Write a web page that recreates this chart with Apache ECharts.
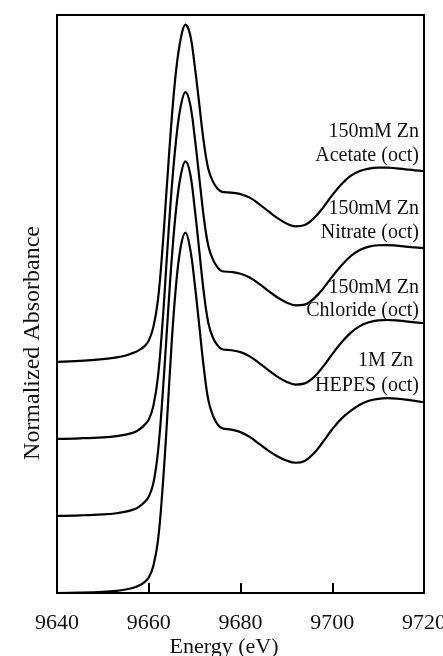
<!DOCTYPE html>
<html>
<head>
<meta charset="utf-8">
<script src="https://cdn.jsdelivr.net/npm/echarts@6/dist/echarts.min.js"></script>
<style>
  html, body { margin: 0; padding: 0; background: #fff; }
  #main { width: 443px; height: 656px; }
</style>
</head>
<body>
<div id="main"></div>
<script>
var energies = [9640, 9645, 9650, 9653, 9655, 9657, 9658, 9659, 9660, 9661, 9662, 9663, 9664, 9665, 9666, 9667, 9668,
    9669, 9670, 9671, 9672, 9673, 9674, 9675, 9676, 9678, 9680, 9682, 9684, 9686, 9688, 9690, 9692, 9694, 9696,
    9698, 9700, 9702, 9704, 9706, 9708, 9710, 9712, 9714, 9716, 9718, 9720];

// normalized absorbance of each sample (before the vertical offset)
var hepes = [0, 0.002, 0.006, 0.011, 0.018, 0.03, 0.04, 0.055, 0.08, 0.14, 0.27, 0.54, 0.90, 1.30, 1.61, 1.80, 1.87,
    1.79, 1.61, 1.39, 1.17, 1.00, 0.92, 0.875, 0.855, 0.848, 0.835, 0.81, 0.775, 0.74, 0.71, 0.688, 0.676, 0.685, 0.725,
    0.785, 0.85, 0.905, 0.945, 0.977, 0.998, 1.008, 1.011, 1.009, 1.004, 0.997, 0.99];
var chloride = [0, 0.003, 0.008, 0.014, 0.022, 0.036, 0.05, 0.07, 0.1, 0.17, 0.33, 0.62, 0.98, 1.33, 1.60, 1.77, 1.84,
    1.78, 1.60, 1.38, 1.16, 1.00, 0.925, 0.885, 0.865, 0.86, 0.85, 0.828, 0.795, 0.758, 0.723, 0.697, 0.682, 0.688, 0.72,
    0.775, 0.84, 0.90, 0.95, 0.985, 1.005, 1.015, 1.017, 1.015, 1.01, 1.005, 1.0];
var nitrate = [0, 0.003, 0.008, 0.014, 0.022, 0.036, 0.05, 0.07, 0.1, 0.17, 0.32, 0.60, 0.96, 1.30, 1.56, 1.73, 1.80,
    1.74, 1.57, 1.36, 1.15, 1.00, 0.93, 0.89, 0.87, 0.866, 0.857, 0.838, 0.806, 0.77, 0.735, 0.708, 0.693, 0.697, 0.728,
    0.78, 0.842, 0.90, 0.948, 0.98, 0.998, 1.005, 1.006, 1.003, 0.998, 0.994, 0.99];
var acetate = [0, 0.005, 0.014, 0.023, 0.033, 0.05, 0.062, 0.08, 0.11, 0.18, 0.32, 0.59, 0.93, 1.26, 1.52, 1.68, 1.75,
    1.70, 1.54, 1.34, 1.14, 1.00, 0.935, 0.898, 0.882, 0.878, 0.87, 0.852, 0.82, 0.783, 0.747, 0.718, 0.703, 0.71, 0.745,
    0.80, 0.865, 0.922, 0.965, 0.99, 1.003, 1.008, 1.008, 1.004, 0.999, 0.994, 0.99];

var spectra = [hepes, chloride, nitrate, acetate];
var offsets = [0, 0.4, 0.8, 1.2];
var xTicks = [9640, 9660, 9680, 9700, 9720];

var sampleLabels = [
    ['1M Zn', 'HEPES (oct)'],
    ['150mM Zn', 'Chloride (oct)'],
    ['150mM Zn', 'Nitrate (oct)'],
    ['150mM Zn', 'Acetate (oct)']
];
// label line centres (px)
var labelY = [[361, 386], [288, 311], [209, 233], [132, 156]];

var font = '"Liberation Serif", "Times New Roman", serif';

function buildSeries() {
    var out = [];
    for (var s = 0; s < spectra.length; s++) {
        var pts = [];
        for (var i = 0; i < energies.length; i++) {
            pts.push([energies[i], spectra[s][i] + offsets[s]]);
        }
        out.push({
            type: 'line',
            data: pts,
            showSymbol: false,
            smooth: 0.4,
            lineStyle: { color: '#000', width: 2.2 },
            silent: true
        });
    }
    return out;
}

function textItem(str, x, y, size, align, rot) {
    return {
        type: 'text',
        x: x,
        y: y,
        rotation: rot || 0,
        style: {
            text: str,
            font: size + 'px ' + font,
            fill: '#111',
            textAlign: align,
            textVerticalAlign: 'middle'
        }
    };
}

function buildLabels() {
    var g = [];
    for (var s = 0; s < sampleLabels.length; s++) {
        for (var k = 0; k < 2; k++) {
            var x = (s === 0 && k === 0) ? 413 : 419;
            g.push(textItem(sampleLabels[s][k], x, labelY[s][k], 20, 'right'));
        }
    }
    // axis titles
    g.push(textItem('Normalized Absorbance', 33, 343, 24, 'center', Math.PI / 2));
    g.push(textItem('Energy (eV)', 224, 647, 22, 'center'));
    return g;
}

var myChart = echarts.init(document.getElementById('main'));
var option = {
    animation: false,
    backgroundColor: '#fff',
    grid: {
        left: 57, right: 19, top: 15, bottom: 63,
        outerBoundsMode: 'none',
        containLabel: false,
        show: true,
        borderColor: '#000',
        borderWidth: 2
    },
    xAxis: {
        type: 'value',
        min: xTicks[0],
        max: xTicks[xTicks.length - 1],
        interval: 20,
        axisLine: { lineStyle: { color: '#000', width: 2 } },
        axisTick: { inside: true, length: 10, lineStyle: { color: '#000', width: 2 } },
        axisLabel: {
            fontFamily: font, fontSize: 22, color: '#111', margin: 19,
            formatter: function (v) { return String(v); }
        },
        splitLine: { show: false }
    },
    yAxis: {
        type: 'value',
        min: 0,
        max: 3,
        axisLine: { show: true, lineStyle: { color: '#000', width: 2 } },
        axisTick: { show: false },
        axisLabel: { show: false },
        splitLine: { show: false }
    },
    series: buildSeries(),
    graphic: buildLabels()
};
myChart.setOption(option);
</script>
</body>
</html>
